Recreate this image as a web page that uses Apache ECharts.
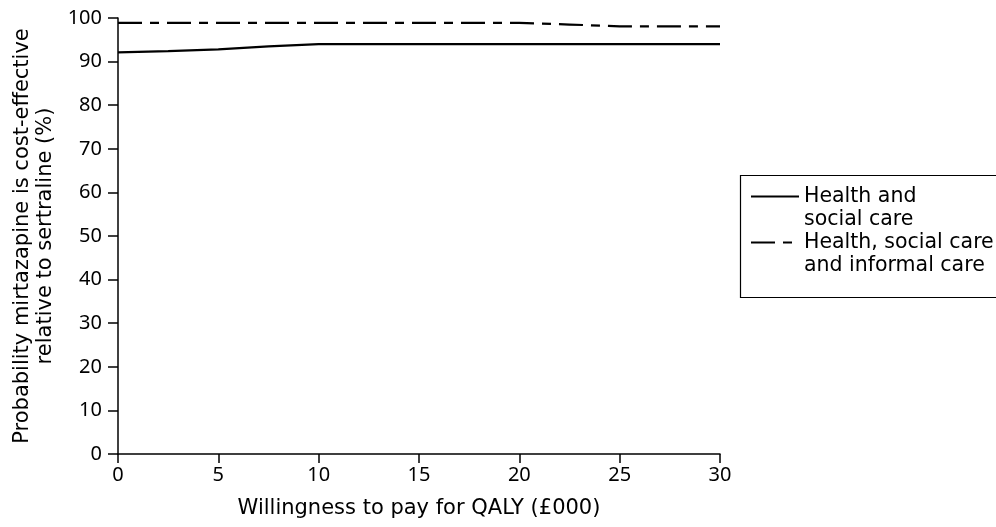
<!DOCTYPE html>
<html><head><meta charset="utf-8">
<script src="https://cdn.jsdelivr.net/npm/echarts@6/dist/echarts.min.js"></script>
<style>html,body{margin:0;padding:0;background:#fff}#c{width:996px;height:527px}</style>
</head><body><div id="c"></div>
<script>
const wtp = [0, 2.5, 5, 7.5, 10, 12.5, 15, 17.5, 20, 22.5, 25, 27.5, 30];
const healthSocial = [92.1, 92.4, 92.8, 93.5, 94.0, 94.0, 94.0, 94.0, 94.0, 94.0, 94.0, 94.0, 94.0];
const healthSocialInformal = [98.9, 98.9, 98.9, 98.9, 98.9, 98.9, 98.9, 98.9, 98.9, 98.5, 98.1, 98.1, 98.1];
const seriesNames = ['Health and\nsocial care', 'Health, social care\nand informal care'];
const yTicks = [0, 10, 20, 30, 40, 50, 60, 70, 80, 90, 100];
const xTicks = [0, 5, 10, 15, 20, 25, 30];

const font = 'DejaVu Sans';
const tickFont = 'Noto Sans';
const fsTick = 20;
const fsTitle = 21;
const fsLegend = 20.5;
const chart = echarts.init(document.getElementById('c'));
const pairs = a => wtp.map((x, i) => [x, a[i]]);
chart.setOption({
  animation: false,
  textStyle: {fontFamily: font},
  grid: {left: 118, right: 276, top: 18, bottom: 73},
  xAxis: {
    type: 'value', min: 0, max: 30, interval: 5,
    name: 'Willingness to pay for QALY (£000)', nameLocation: 'middle', nameGap: 44,
    nameTextStyle: {fontSize: fsTitle, color: '#000', fontFamily: font},
    axisLine: {lineStyle: {color: '#000', width: 1.5}},
    axisTick: {show: true, length: 9, lineStyle: {color: '#000', width: 1.5}},
    axisLabel: {fontSize: fsTick, color: '#000', margin: 11, fontFamily: tickFont},
    splitLine: {show: false}
  },
  yAxis: {
    type: 'value', min: 0, max: 100, interval: 10,
    name: 'Probability mirtazapine is cost-effective\nrelative to sertraline (%)',
    nameLocation: 'middle', nameGap: 60, nameRotate: 90,
    nameTextStyle: {fontSize: fsTitle, color: '#000', lineHeight: 23, fontFamily: font},
    axisLine: {show: true, lineStyle: {color: '#000', width: 1.5}},
    axisTick: {show: true, length: 10, lineStyle: {color: '#000', width: 1.5}},
    axisLabel: {fontSize: fsTick, color: '#000', margin: 16, fontFamily: tickFont},
    splitLine: {show: false}
  },
  legend: {
    left: 740, top: 162,
    orient: 'vertical',
    padding: [0, 10, 0, 10],
    itemWidth: 48, itemHeight: 14, itemGap: -23,
    itemStyle: {opacity: 0},
    formatter: n => '\u00a0\n' + n,
    textStyle: {fontSize: fsLegend, color: '#000', lineHeight: 23, fontFamily: font},
    data: seriesNames
  },
  graphic: [{
    type: 'rect', left: 738, top: 173, z: 100, silent: true,
    shape: {width: 300, height: 122},
    style: {fill: 'none', stroke: '#000', lineWidth: 1.2}
  }],
  series: [
    {name: seriesNames[0], type: 'line', data: pairs(healthSocial), showSymbol: false, symbol: 'none', smooth: false,
     lineStyle: {color: '#000', width: 2.2, type: 'solid'}, itemStyle: {color: '#000'}},
    {name: seriesNames[1], type: 'line', data: pairs(healthSocialInformal), showSymbol: false, symbol: 'none', smooth: false,
     lineStyle: {color: '#000', width: 2.2, type: [24, 8, 9, 8]}, itemStyle: {color: '#000'}}
  ]
});
</script></body></html>
